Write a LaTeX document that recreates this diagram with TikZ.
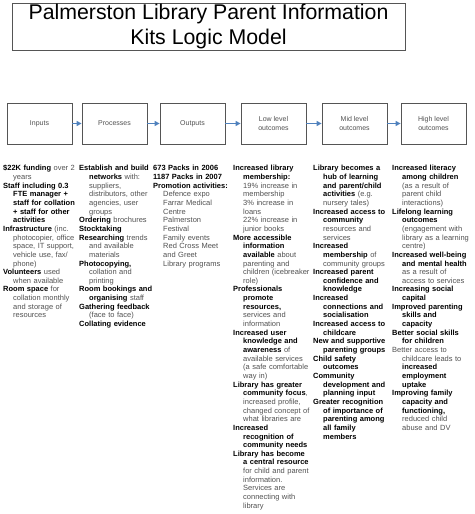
\documentclass[tikz,border=0pt]{standalone}
\usepackage{fontspec}
\setmainfont{Liberation Sans}
\usetikzlibrary{positioning,arrows.meta}

\definecolor{boxline}{RGB}{85,85,85}
\definecolor{flowblue}{RGB}{79,129,189}
\definecolor{softtext}{RGB}{80,80,80}

% bold heading inside a column, and one hanging entry
\newcommand{\hd}[1]{\textbf{\color{black}#1}}
\newcommand{\lmitem}[1]{\par\hangindent=10pt\hangafter=1 #1\par}

\tikzset{
    stagebox/.style={draw=boxline, line width=0.8pt, minimum width=65pt,
        minimum height=41pt, inner sep=0pt, align=center, text=softtext,
        font=\fontsize{7}{8.65}\selectfont},
    flow/.style={-{Triangle[length=5pt,width=5pt]}, draw=flowblue,
        fill=flowblue, line width=1.6pt},
    column/.style={anchor=north west, inner sep=0pt, text width=84pt,
        execute at begin node={\raggedright\let\\\newline}, text=softtext,
        font=\fontsize{7.5}{8.65}\selectfont}
}

\begin{document}
\begin{tikzpicture}[x=1pt,y=-1pt]
    \useasboundingbox (0,0) rectangle (474,514);
    % Title
    \node (title) [draw=boxline, line width=0.8pt, minimum width=393pt,
        minimum height=47pt, inner sep=0pt, align=center,
        font=\fontsize{21.3}{25}\selectfont] at (208.5,26.5)
        {Palmerston Library Parent Information\\Kits Logic Model};

    % Stages of the model
    \node (inputs)    [stagebox] at (39.5,123.5)  {Inputs};
    \node (processes) [stagebox] at (114.5,123.5) {Processes};
    \node (outputs)   [stagebox] at (192.5,123.5) {Outputs};
    \node (lowlevel)  [stagebox] at (273.5,123.5) {Low level\\outcomes};
    \node (midlevel)  [stagebox] at (354.5,123.5) {Mid level\\outcomes};
    \node (highlevel) [stagebox] at (433.5,123.5) {High level\\outcomes};
    \foreach \a/\b in {inputs/processes, processes/outputs, outputs/lowlevel,
        lowlevel/midlevel, midlevel/highlevel}
        \draw [flow] (\a) -- (\b);

    % Column texts
    \node (incol) [column] at (3,162) {%
        \lmitem{\hd{\$22K funding} over 2\\ years}
        \lmitem{\hd{Staff including 0.3\\ FTE manager +\\ staff for collation\\ + staff for other\\ activities}}
        \lmitem{\hd{Infrastructure} (inc.\\ photocopier, office\\ space, IT support,\\ vehicle use, fax/\\ phone)}
        \lmitem{\hd{Volunteers} used\\ when available}
        \lmitem{\hd{Room space} for\\ collation monthly\\ and storage of\\ resources}};
    \node (procol) [column] at (79,162) {%
        \lmitem{\hd{Establish and build\\ networks} with:\\ suppliers,\\ distributors, other\\ agencies, user\\ groups}
        \lmitem{\hd{Ordering} brochures}
        \lmitem{\hd{Stocktaking}}
        \lmitem{\hd{Researching} trends\\ and available\\ materials}
        \lmitem{\hd{Photocopying,}\\ collation and\\ printing}
        \lmitem{\hd{Room bookings and\\ organising} staff}
        \lmitem{\hd{Gathering feedback}\\ (face to face)}
        \lmitem{\hd{Collating evidence}}};
    \node (outcol) [column] at (153,162) {%
        \lmitem{\hd{673 Packs in 2006}}
        \lmitem{\hd{1187 Packs in 2007}}
        \lmitem{\hd{Promotion activities:}\\ Defence expo\\ Farrar Medical\\ Centre\\ Palmerston\\ Festival\\ Family events\\ Red Cross Meet\\ and Greet\\ Library programs}};
    \node (lowcol) [column] at (233,162) {%
        \lmitem{\hd{Increased library\\ membership:}\\ 19\% increase in\\ membership\\ 3\% increase in\\ loans\\ 22\% increase in\\ junior books}
        \lmitem{\hd{More accessible\\ information\\ available} about\\ parenting and\\ children (icebreaker\\ role)}
        \lmitem{\hd{Professionals\\ promote\\ resources,}\\ services and\\ information}
        \lmitem{\hd{Increased user\\ knowledge and\\ awareness} of\\ available services\\ (a safe comfortable\\ way in)}
        \lmitem{\hd{Library has greater\\ community focus},\\ increased profile,\\ changed concept of\\ what libraries are}
        \lmitem{\hd{Increased\\ recognition of\\ community needs}}
        \lmitem{\hd{Library has become\\ a central resource}\\ for child and parent\\ information.\\ Services are\\ connecting with\\ library}};
    \node (midcol) [column] at (313,162) {%
        \lmitem{\hd{Library becomes a\\ hub of learning\\ and parent/child\\ activities} (e.g.\\ nursery tales)}
        \lmitem{\hd{Increased access to\\ community}\\ resources and\\ services}
        \lmitem{\hd{Increased\\ membership} of\\ community groups}
        \lmitem{\hd{Increased parent\\ confidence and\\ knowledge}}
        \lmitem{\hd{Increased\\ connections and\\ socialisation}}
        \lmitem{\hd{Increased access to\\ childcare}}
        \lmitem{\hd{New and supportive\\ parenting groups}}
        \lmitem{\hd{Child safety\\ outcomes}}
        \lmitem{\hd{Community\\ development and\\ planning input}}
        \lmitem{\hd{Greater recognition\\ of importance of\\ parenting among\\ all family\\ members}}};
    \node (highcol) [column] at (392,162) {%
        \lmitem{\hd{Increased literacy\\ among children}\\ (as a result of\\ parent child\\ interactions)}
        \lmitem{\hd{Lifelong learning\\ outcomes}\\ (engagement with\\ library as a learning\\ centre)}
        \lmitem{\hd{Increased well-being\\ and mental health}\\ as a result of\\ access to services}
        \lmitem{\hd{Increasing social\\ capital}}
        \lmitem{\hd{Improved parenting\\ skills and\\ capacity}}
        \lmitem{\hd{Better social skills\\ for children}}
        \lmitem{Better access to\\ childcare leads to\\ \hd{increased\\ employment\\ uptake}}
        \lmitem{\hd{Improving family\\ capacity and\\ functioning,}\\ reduced child\\ abuse and DV}};
\end{tikzpicture}
\end{document}
